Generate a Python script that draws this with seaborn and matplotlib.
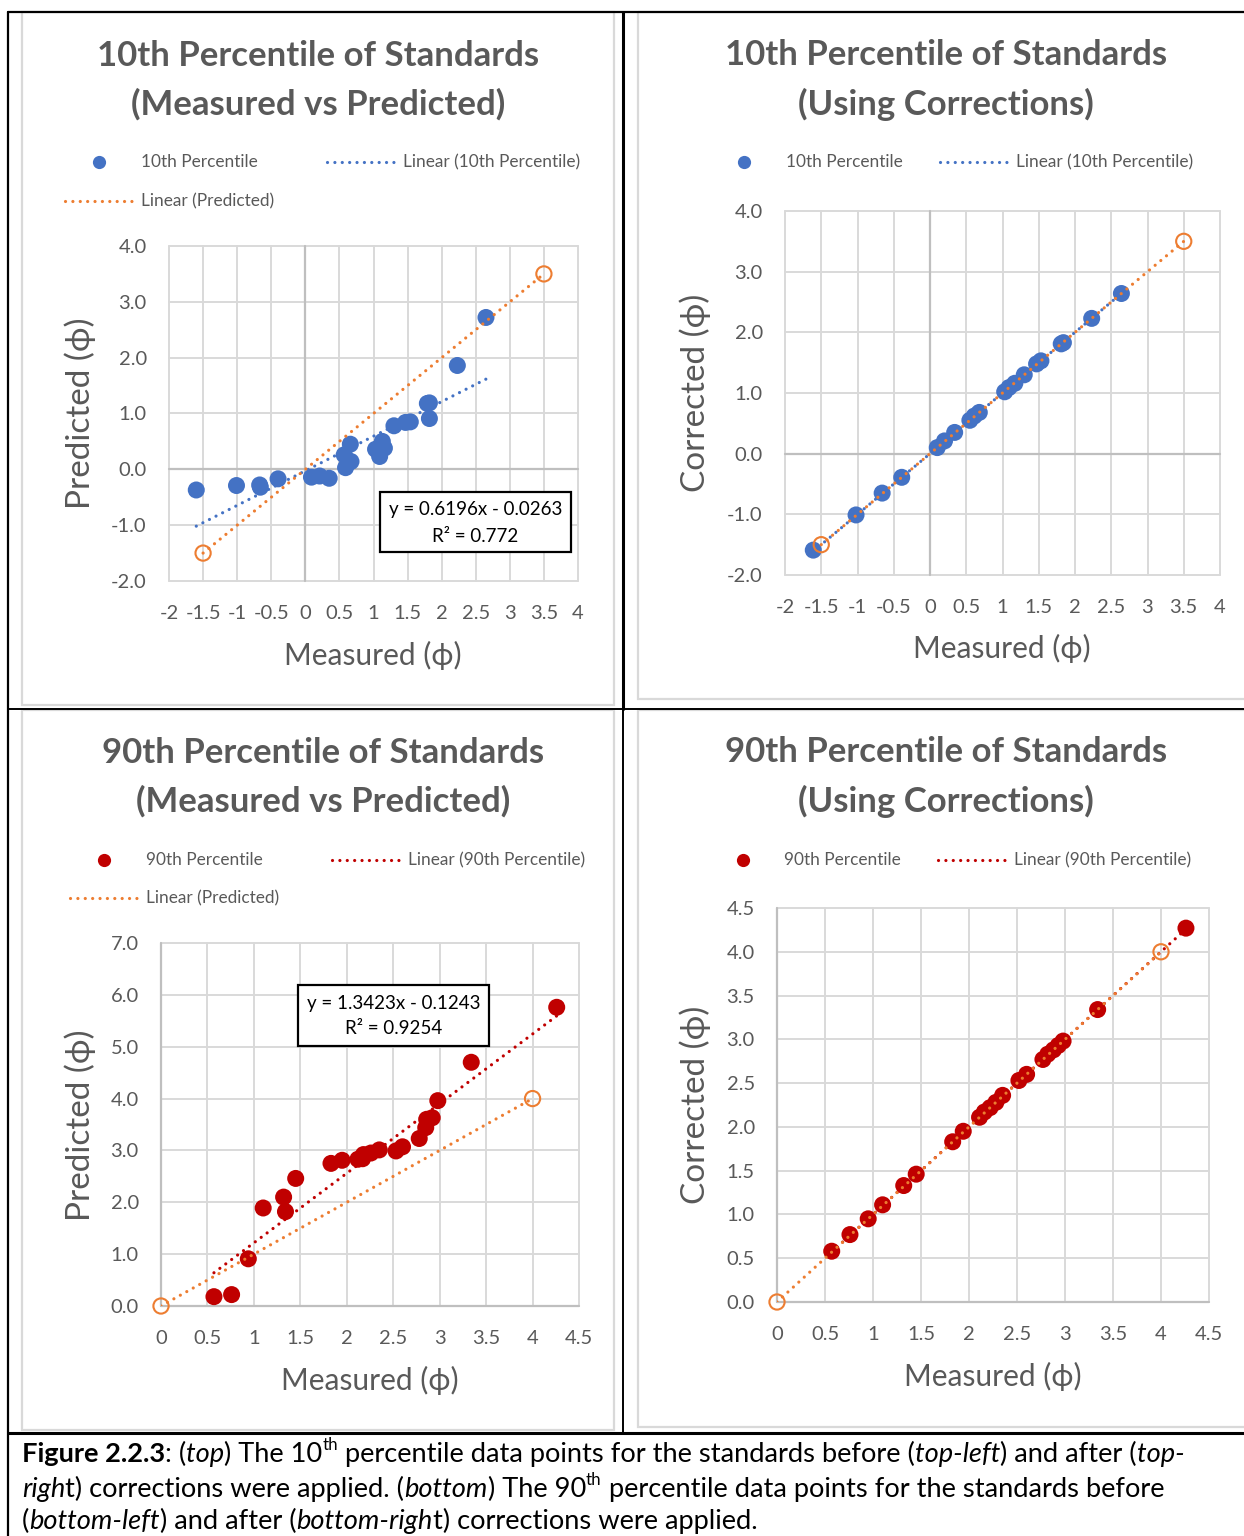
import numpy as np
import matplotlib
matplotlib.use("Agg")
import matplotlib.pyplot as plt
import seaborn as sns
from matplotlib.patches import Rectangle

# ---------------- data ----------------
# 10th percentile, measured vs predicted
meas10 = [-1.60, -1.01, -0.67, -0.66, -0.40, 0.09, 0.21, 0.35, 0.59, 0.57, 0.66, 0.67,
          1.09, 1.03, 1.13, 1.16, 1.30, 1.47, 1.54, 1.82, 1.82, 1.79, 2.23, 2.65]
pred10 = [-0.37, -0.29, -0.28, -0.32, -0.17, -0.14, -0.12, -0.16, 0.03, 0.26, 0.45, 0.14,
          0.23, 0.36, 0.50, 0.38, 0.78, 0.84, 0.85, 0.91, 1.19, 1.18, 1.86, 2.72]
trend10 = (0.6196, -0.0263)
pred_line10 = [-1.5, 3.5]

# 10th percentile, corrected
meas10c = [-1.61, -1.02, -0.66, -0.39, 0.10, 0.20, 0.34, 0.55, 0.61, 0.68,
           1.03, 1.09, 1.17, 1.30, 1.47, 1.53, 1.81, 1.84, 2.23, 2.64]
corr10 = [-1.59, -1.01, -0.65, -0.39, 0.10, 0.21, 0.35, 0.55, 0.62, 0.68,
          1.02, 1.09, 1.16, 1.30, 1.48, 1.53, 1.81, 1.83, 2.23, 2.64]
trend10c = (1.0, 0.0)

# 90th percentile, measured vs predicted
meas90 = [0.57, 0.76, 0.94, 1.10, 1.32, 1.34, 1.45, 1.83, 1.95, 2.12, 2.17, 2.18,
          2.26, 2.35, 2.53, 2.60, 2.78, 2.85, 2.86, 2.92, 2.98, 3.34, 4.26]
pred90 = [0.18, 0.22, 0.91, 1.89, 2.10, 1.82, 2.46, 2.75, 2.81, 2.83, 2.84, 2.92,
          2.95, 3.01, 2.99, 3.07, 3.23, 3.44, 3.60, 3.63, 3.96, 4.70, 5.76]
trend90 = (1.3423, -0.1243)
pred_line90 = [0.0, 4.0]

# 90th percentile, corrected
meas90c = [0.57, 0.76, 0.95, 1.10, 1.32, 1.45, 1.83, 1.94, 2.11, 2.16, 2.22,
           2.28, 2.35, 2.52, 2.60, 2.77, 2.82, 2.88, 2.93, 2.98, 3.34, 4.26]
corr90 = [0.58, 0.77, 0.95, 1.11, 1.33, 1.46, 1.83, 1.95, 2.11, 2.17, 2.22,
          2.28, 2.36, 2.53, 2.60, 2.77, 2.83, 2.88, 2.93, 2.98, 3.34, 4.27]
trend90c = (1.0, 0.0)

titles = ["10th Percentile of Standards\n(Measured vs Predicted)",
          "10th Percentile of Standards\n(Using Corrections)",
          "90th Percentile of Standards\n(Measured vs Predicted)",
          "90th Percentile of Standards\n(Using Corrections)"]

# ---------------- style ----------------
sns.set_theme(style="white")
FONT = ['Lato', 'DejaVu Sans']
plt.rcParams['font.family'] = FONT

BLUE = '#4472c4'
ORANGE = '#ed7d31'
RED = '#c00000'
GRID = '#d9d9d9'
TXT = '#595959'

W, H = 1244, 1536
fig = plt.figure(figsize=(W / 100, H / 100), dpi=100)
fig.patch.set_facecolor('white')


def px_axes(l, t, r, b, **kw):
    return fig.add_axes([l / W, 1 - b / H, (r - l) / W, (b - t) / H], **kw)


DOT = dict(linestyle=(0, (0.01, 2.3)), dash_capstyle='round', lw=2.3)


def panel(box, xlim, xstep, ylim, ystep):
    ax = px_axes(*box)
    ax.set_xlim(xlim)
    ax.set_ylim(ylim)
    xt = np.arange(xlim[0], xlim[1] + 1e-9, xstep)
    yt = np.arange(ylim[0], ylim[1] + 1e-9, ystep)
    ax.set_xticks(xt)
    ax.set_yticks(yt)
    ax.set_xticklabels([f"{v:g}" for v in xt])
    ax.set_yticklabels([f"{v:.1f}" for v in yt])
    ax.grid(True, color=GRID, lw=1.4)
    for gl in ax.get_xgridlines() + ax.get_ygridlines():
        gl.set_clip_on(False)
    for s in ax.spines.values():
        s.set_visible(False)
    ax.axvline(0, color='#bfbfbf', lw=1.6, clip_on=False, zorder=1)
    ax.axhline(0, color='#bfbfbf', lw=1.6, clip_on=False, zorder=1)
    ax.tick_params(length=0, labelsize=14.5, labelcolor=TXT)
    ax.tick_params(axis='x', pad=17)
    ax.tick_params(axis='y', pad=16)
    ax.set_facecolor('none')
    ax.set_axisbelow(True)
    return ax


def fit_line(ax, xs, coef, color, z=3):
    x = np.array([min(xs), max(xs)])
    ax.plot(x, coef[0] * x + coef[1], color=color, zorder=z, **DOT)


def pred_line(ax, ends):
    e = np.array(ends)
    ax.plot(e, e, color=ORANGE, zorder=5, **DOT)
    ax.scatter(e, e, s=120, facecolor='none', edgecolor=ORANGE, lw=1.5, zorder=6, clip_on=False)


# panel 1
ax1 = panel((169, 246, 578, 581), (-2, 4), 0.5, (-2, 4), 1)
sns.scatterplot(x=meas10, y=pred10, ax=ax1, color=BLUE, s=150, edgecolor='none', zorder=3)
fit_line(ax1, meas10, trend10, BLUE, z=4)
pred_line(ax1, pred_line10)

# panel 2
ax2 = panel((785, 211, 1220, 575), (-2, 4), 0.5, (-2, 4), 1)
sns.scatterplot(x=meas10c, y=corr10, ax=ax2, color=BLUE, s=150, edgecolor='none', zorder=3)
fit_line(ax2, meas10c, trend10c, BLUE, z=4)
pred_line(ax2, pred_line10)

# panel 3
ax3 = panel((161, 943, 579, 1306), (0, 4.5), 0.5, (0, 7), 1)
sns.scatterplot(x=meas90, y=pred90, ax=ax3, color=RED, s=150, edgecolor='none', zorder=3, clip_on=False)
fit_line(ax3, meas90, trend90, RED, z=4)
pred_line(ax3, pred_line90)

# panel 4
ax4 = panel((777, 908, 1209, 1302), (0, 4.5), 0.5, (0, 4.5), 0.5)
sns.scatterplot(x=meas90c, y=corr90, ax=ax4, color=RED, s=150, edgecolor='none', zorder=3, clip_on=False)
fit_line(ax4, meas90c, trend90c, RED, z=4)
pred_line(ax4, pred_line90)

# ---------------- overlay (frames, titles, legends, text) ----------------
ov = fig.add_axes([0, 0, 1, 1], zorder=10)
ov.set_xlim(0, W)
ov.set_ylim(H, 0)
ov.axis('off')

# chart area frames
for (l, t, r, b) in [(22, 12, 614, 705), (638, 12, 1250, 699),
                     (22, 710, 614, 1430), (638, 710, 1250, 1427)]:
    ov.add_patch(Rectangle((l, t), r - l, b - t, fill=False, ec=GRID, lw=1.6))

# table lines
K = 'black'
ov.plot([8, W], [12, 12], color=K, lw=1.6)
ov.plot([8, 8], [12, H], color=K, lw=1.6)
ov.plot([622.7, 622.7], [12, 709], color=K, lw=2.2)
ov.plot([622.7, 622.7], [709, 1433], color=K, lw=1.4)
ov.plot([8, W], [709, 709], color=K, lw=1.4)
ov.plot([8, W], [1433, 1433], color=K, lw=2.2)

# titles
for (cx, cy), t in zip([(318, 80), (946, 80), (323, 777), (946, 777)], titles):
    ov.text(cx, cy, t, ha='center', va='center', fontsize=25, fontweight='bold',
            color=TXT, linespacing=1.6)

# axis labels
for (x, y, s, rot) in [(80, 413, "Predicted (ϕ)", 90), (373, 655, "Measured (ϕ)", 0),
                       (695, 393, "Corrected (ϕ)", 90), (1002, 648, "Measured (ϕ)", 0),
                       (80, 1125, "Predicted (ϕ)", 90), (370, 1380, "Measured (ϕ)", 0),
                       (695, 1105, "Corrected (ϕ)", 90), (993, 1376, "Measured (ϕ)", 0)]:
    fs = 24 if rot else 21.5
    ov.text(x, y, s, ha='center', va='center', rotation=rot, fontsize=fs, color=TXT)

# legends
LFS = 12.4


def leg_marker(x, y, c, label, tx):
    ov.plot([x], [y], 'o', color=c, ms=9.5, mec='none')
    ov.text(tx, y, label, va='center', ha='left', fontsize=LFS, color=TXT)


def leg_line(x1, x2, y, c, label):
    ov.plot([x1, x2], [y, y], color=c, **DOT)
    ov.text(x2 + 6, y, label, va='center', ha='left', fontsize=LFS, color=TXT)


leg_marker(99, 162, BLUE, "10th Percentile", 141)
leg_line(327, 397, 162, BLUE, "Linear (10th Percentile)")
leg_line(65, 135, 201, ORANGE, "Linear (Predicted)")

leg_marker(744, 162, BLUE, "10th Percentile", 786)
leg_line(940, 1010, 162, BLUE, "Linear (10th Percentile)")

leg_marker(104, 860, RED, "90th Percentile", 146)
leg_line(332, 402, 860, RED, "Linear (90th Percentile)")
leg_line(70, 140, 898, ORANGE, "Linear (Predicted)")

leg_marker(743, 860, RED, "90th Percentile", 784)
leg_line(938, 1008, 860, RED, "Linear (90th Percentile)")

# equation boxes
for (l, t, r, b, l1, l2) in [(380, 492, 571, 552, "y = 0.6196x - 0.0263", "R² = 0.772"),
                             (298, 985, 489, 1046, "y = 1.3423x - 0.1243", "R² = 0.9254")]:
    ov.add_patch(Rectangle((l, t), r - l, b - t, fc='white', ec='black', lw=1.6))
    cx = (l + r) / 2
    ov.text(cx, t + 18, l1, ha='center', va='center', fontsize=13.5, color='black')
    ov.text(cx, t + 44, l2, ha='center', va='center', fontsize=13.5, color='black')

# caption with mixed styles
fig.canvas.draw()
rend = fig.canvas.get_renderer()
CAP = 19.6


def runs(x, y, items):
    for item in items:
        s, style = item
        kw = dict(fontsize=CAP, color='black', va='baseline', ha='left')
        yy = y
        if 'b' in style:
            kw['fontweight'] = 'bold'
        if 'i' in style:
            kw['fontstyle'] = 'italic'
        if 's' in style:
            kw['fontsize'] = CAP * 0.62
            yy = y - 12
        t = ov.text(x, yy, s, **kw)
        bb = t.get_window_extent(renderer=rend)
        x += bb.width


runs(22, 1462, [("Figure 2.2.3", 'b'), (": (", ''), ("top", 'i'), (") The 10", ''), ("th", 's'),
                (" percentile data points for the standards before (", ''), ("top-left", 'i'),
                (") and after (", ''), ("top-", 'i')])
runs(22, 1497, [("righ", 'i'), ("t) corrections were applied. (", ''), ("bottom", 'i'),
                (") The 90", ''), ("th", 's'),
                (" percentile data points for the standards before", '')])
runs(22, 1529, [("(", ''), ("bottom-left", 'i'), (") and after (", ''), ("bottom-righ", 'i'),
                ("t) corrections were applied.", '')])

fig.savefig("out.png", dpi=100, facecolor='white')
